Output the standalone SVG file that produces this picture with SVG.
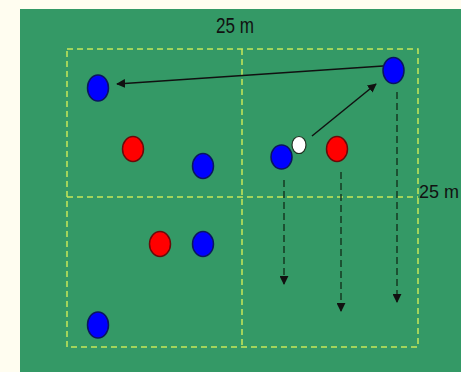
<svg xmlns="http://www.w3.org/2000/svg" width="461" height="372" viewBox="0 0 461 372">
<defs>
<style>
.lbl{font-family:"Liberation Sans",Arial,sans-serif;font-size:22px;fill:#111}
.lbl2{font-family:"Liberation Sans",Arial,sans-serif;font-size:18px;fill:#111}
.zone{fill:none;stroke:#c6e85a;stroke-width:1.5;stroke-dasharray:6 4}
.blue{fill:#0000ff;stroke:#0b1560;stroke-width:1.5}
.red{fill:#ff0000;stroke:#6a0a0a;stroke-width:1.5}
.ball{fill:#ffffff;stroke:#203020;stroke-width:1.2}
.pass{stroke:#111;stroke-width:1.5;fill:none}
.run{stroke:#143a22;stroke-width:1.5;stroke-dasharray:7 4;fill:none}
</style>
<marker id="ah" viewBox="0 0 10 10" refX="9" refY="5" markerWidth="9" markerHeight="9" markerUnits="userSpaceOnUse" orient="auto">
<path d="M0,0 L10,5 L0,10 z" fill="#111"/>
</marker>
<marker id="ah2" viewBox="0 0 10 10" refX="9" refY="5" markerWidth="9" markerHeight="9" markerUnits="userSpaceOnUse" orient="auto">
<path d="M0,0 L10,5 L0,10 z" fill="#111"/>
</marker>
</defs>
<rect x="0" y="0" width="461" height="372" fill="#fffdf0"/>
<rect x="20" y="9" width="441" height="363" fill="#349966"/>
<g id="field">
<rect class="zone" x="67" y="49" width="351" height="298"/>
<line class="zone" x1="242" y1="49" x2="242" y2="347"/>
<line class="zone" x1="67" y1="197" x2="418" y2="197"/>
</g>
<text class="lbl" x="216" y="33" textLength="38" lengthAdjust="spacingAndGlyphs">25 m</text>
<text class="lbl2" x="419" y="198">25 m</text>
<g id="connectors">
<line class="pass" x1="383" y1="66" x2="117" y2="84" marker-end="url(#ah)"/>
<line class="pass" x1="312" y1="136" x2="376" y2="84" marker-end="url(#ah)"/>
<line class="run" x1="284" y1="180" x2="284" y2="284" marker-end="url(#ah2)"/>
<line class="run" x1="341" y1="172" x2="341" y2="311" marker-end="url(#ah2)"/>
<line class="run" x1="397" y1="92" x2="397" y2="302" marker-end="url(#ah2)"/>
</g>
<g id="blue1"><ellipse class="blue" cx="98" cy="88" rx="10.5" ry="13"/></g>
<g id="blue2"><ellipse class="blue" cx="393.5" cy="70.5" rx="10.5" ry="13"/></g>
<g id="red1"><ellipse class="red" cx="133" cy="149" rx="10.5" ry="12.5"/></g>
<g id="blue3"><ellipse class="blue" cx="203" cy="166" rx="10.5" ry="12.5"/></g>
<g id="blue4"><ellipse class="blue" cx="281.5" cy="157" rx="10.5" ry="12"/></g>
<g id="ball"><ellipse class="ball" cx="299" cy="145" rx="7" ry="8.5"/></g>
<g id="red2"><ellipse class="red" cx="337" cy="149" rx="10.5" ry="12.5"/></g>
<g id="red3"><ellipse class="red" cx="160" cy="244" rx="10.5" ry="12.5"/></g>
<g id="blue5"><ellipse class="blue" cx="203" cy="244" rx="10.5" ry="12.5"/></g>
<g id="blue6"><ellipse class="blue" cx="98" cy="325" rx="10.5" ry="13"/></g>
</svg>
